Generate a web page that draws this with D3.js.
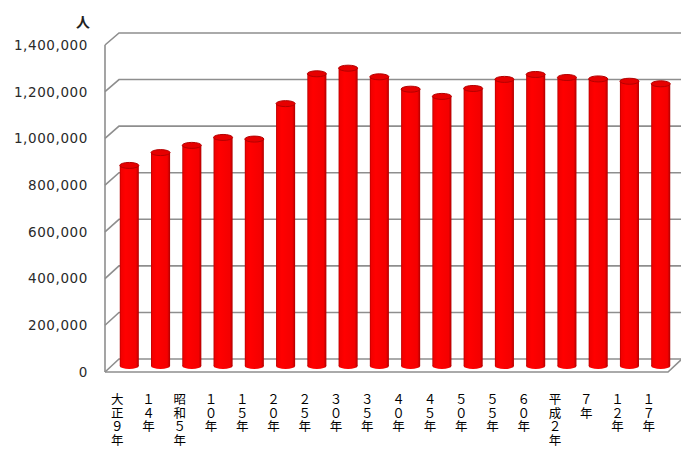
<!DOCTYPE html>
<html>
<head>
<meta charset="utf-8">
<script src="https://cdn.jsdelivr.net/npm/d3@7"></script>
<style>
  body { margin: 0; background: #fff; }
  svg { display: block; }
</style>
</head>
<body>
<svg id="chart"></svg>
<script>
// population by census year
const categories = ['大正９年', '１４年', '昭和５年', '１０年', '１５年', '２０年', '２５年', '３０年', '３５年',
    '４０年', '４５年', '５０年', '５５年', '６０年', '平成２年', '７年', '１２年', '１７年'];
const population = [860000, 915000, 946000, 980000, 973000, 1125000, 1253000, 1277000, 1240000,
    1187000, 1156000, 1190000, 1229000, 1250000, 1237000, 1231000, 1221000, 1210000];
const yTicks = [0, 200000, 400000, 600000, 800000, 1000000, 1200000, 1400000];

const width = 681, height = 452;
const depthX = 14;   // offset between back wall and front edge

const svg = d3.select('#chart').attr('width', width).attr('height', height);

const x = d3.scaleBand()
    .domain(categories)
    .range([113.5, 676.5])
    .paddingInner(0.39)
    .paddingOuter(0.2);

// back wall, front edge and bar (mid-depth) value scales
const yBack = d3.scaleLinear().domain([0, 1400000]).range([359, 33]);
const yFront = d3.scaleLinear().domain([0, 1400000]).range([372, 45]);
const yBar = d3.scaleLinear().domain([0, 1400000]).range([366, 39.5]);

const backLeft = 119, backRight = 690;
const frontLeft = backLeft - depthX, frontRight = 668;

// gradient for the cylinders
const defs = svg.append('defs');
const grad = defs.append('linearGradient').attr('id', 'cyl')
    .attr('x1', 0).attr('x2', 1).attr('y1', 0).attr('y2', 0);
[['0%', '#b80000'], ['8%', '#f20000'], ['30%', '#ff0000'], ['85%', '#f40000'], ['100%', '#b00000']]
    .forEach(([o, c]) => grad.append('stop').attr('offset', o).attr('stop-color', c));

// gridlines: diagonal on the left wall + horizontal on the back wall
const grid = svg.append('g')
    .attr('fill', 'none')
    .attr('stroke', '#8e8e8e')
    .attr('stroke-width', 1.6);

grid.selectAll('path.grid')
    .data(yTicks.filter(d => d > 0))
    .enter().append('path')
    .attr('class', 'grid')
    .attr('d', d => `M${frontLeft},${yFront(d)}L${backLeft},${yBack(d)}H${backRight}`);

// left wall front edge
grid.append('line')
    .attr('x1', frontLeft).attr('x2', frontLeft)
    .attr('y1', yFront(1400000)).attr('y2', yFront(0));

// floor
grid.append('path')
    .attr('d', `M${frontLeft},${yFront(0)}L${backLeft},${yBack(0)}H${backRight}`);
grid.append('path')
    .attr('d', `M${frontLeft},${yFront(0)}H${frontRight}L${frontRight + depthX},${yBack(0)}`);

// bars as cylinders
const bars = svg.append('g');
const bw = x.bandwidth();
const ry = 3;

bars.selectAll('rect')
    .data(population)
    .enter().append('rect')
    .attr('x', (d, i) => x(categories[i]))
    .attr('y', d => yBar(d))
    .attr('width', bw)
    .attr('height', d => yBar(0) - yBar(d))
    .attr('fill', 'url(#cyl)');

bars.selectAll('ellipse.bottom')
    .data(population)
    .enter().append('ellipse')
    .attr('class', 'bottom')
    .attr('cx', (d, i) => x(categories[i]) + bw / 2)
    .attr('cy', yBar(0))
    .attr('rx', bw / 2)
    .attr('ry', ry)
    .attr('fill', 'url(#cyl)');

bars.selectAll('ellipse.top')
    .data(population)
    .enter().append('ellipse')
    .attr('class', 'top')
    .attr('cx', (d, i) => x(categories[i]) + bw / 2)
    .attr('cy', d => yBar(d))
    .attr('rx', bw / 2)
    .attr('ry', ry)
    .attr('fill', '#e60000')
    .attr('stroke', '#b40000')
    .attr('stroke-width', 1);

// y axis labels
svg.append('g')
    .selectAll('text')
    .data(yTicks)
    .enter().append('text')
    .attr('x', 88)
    .attr('y', d => yFront(d))
    .attr('dy', '0.36em')
    .attr('text-anchor', 'end')
    .attr('font-family', 'DejaVu Sans, sans-serif')
    .attr('font-size', 13.5)
    .attr('letter-spacing', 0.6)
    .attr('fill', '#2a2a2a')
    .text(d => d3.format(',')(d));

// unit
svg.append('text')
    .attr('x', 83)
    .attr('y', 27)
    .attr('text-anchor', 'middle')
    .attr('font-family', 'Noto Sans CJK JP, sans-serif')
    .attr('font-size', 14)
    .attr('font-weight', 'bold')
    .attr('fill', '#222')
    .text('人');

// category labels, one character per line
const labels = svg.append('g')
    .attr('font-family', 'Noto Sans CJK JP, sans-serif')
    .attr('font-size', 12.5)
    .attr('fill', '#000')
    .attr('text-anchor', 'middle');

labels.selectAll('text')
    .data(categories)
    .enter().append('text')
    .each(function(d) {
        const cx = x(d) + bw / 2 - 12;
        const t = d3.select(this);
        Array.from(d).forEach((ch, k) => {
            t.append('tspan')
                .attr('x', cx)
                .attr('y', 404 + k * 13.5)
                .text(ch);
        });
    });
</script>
</body>
</html>
